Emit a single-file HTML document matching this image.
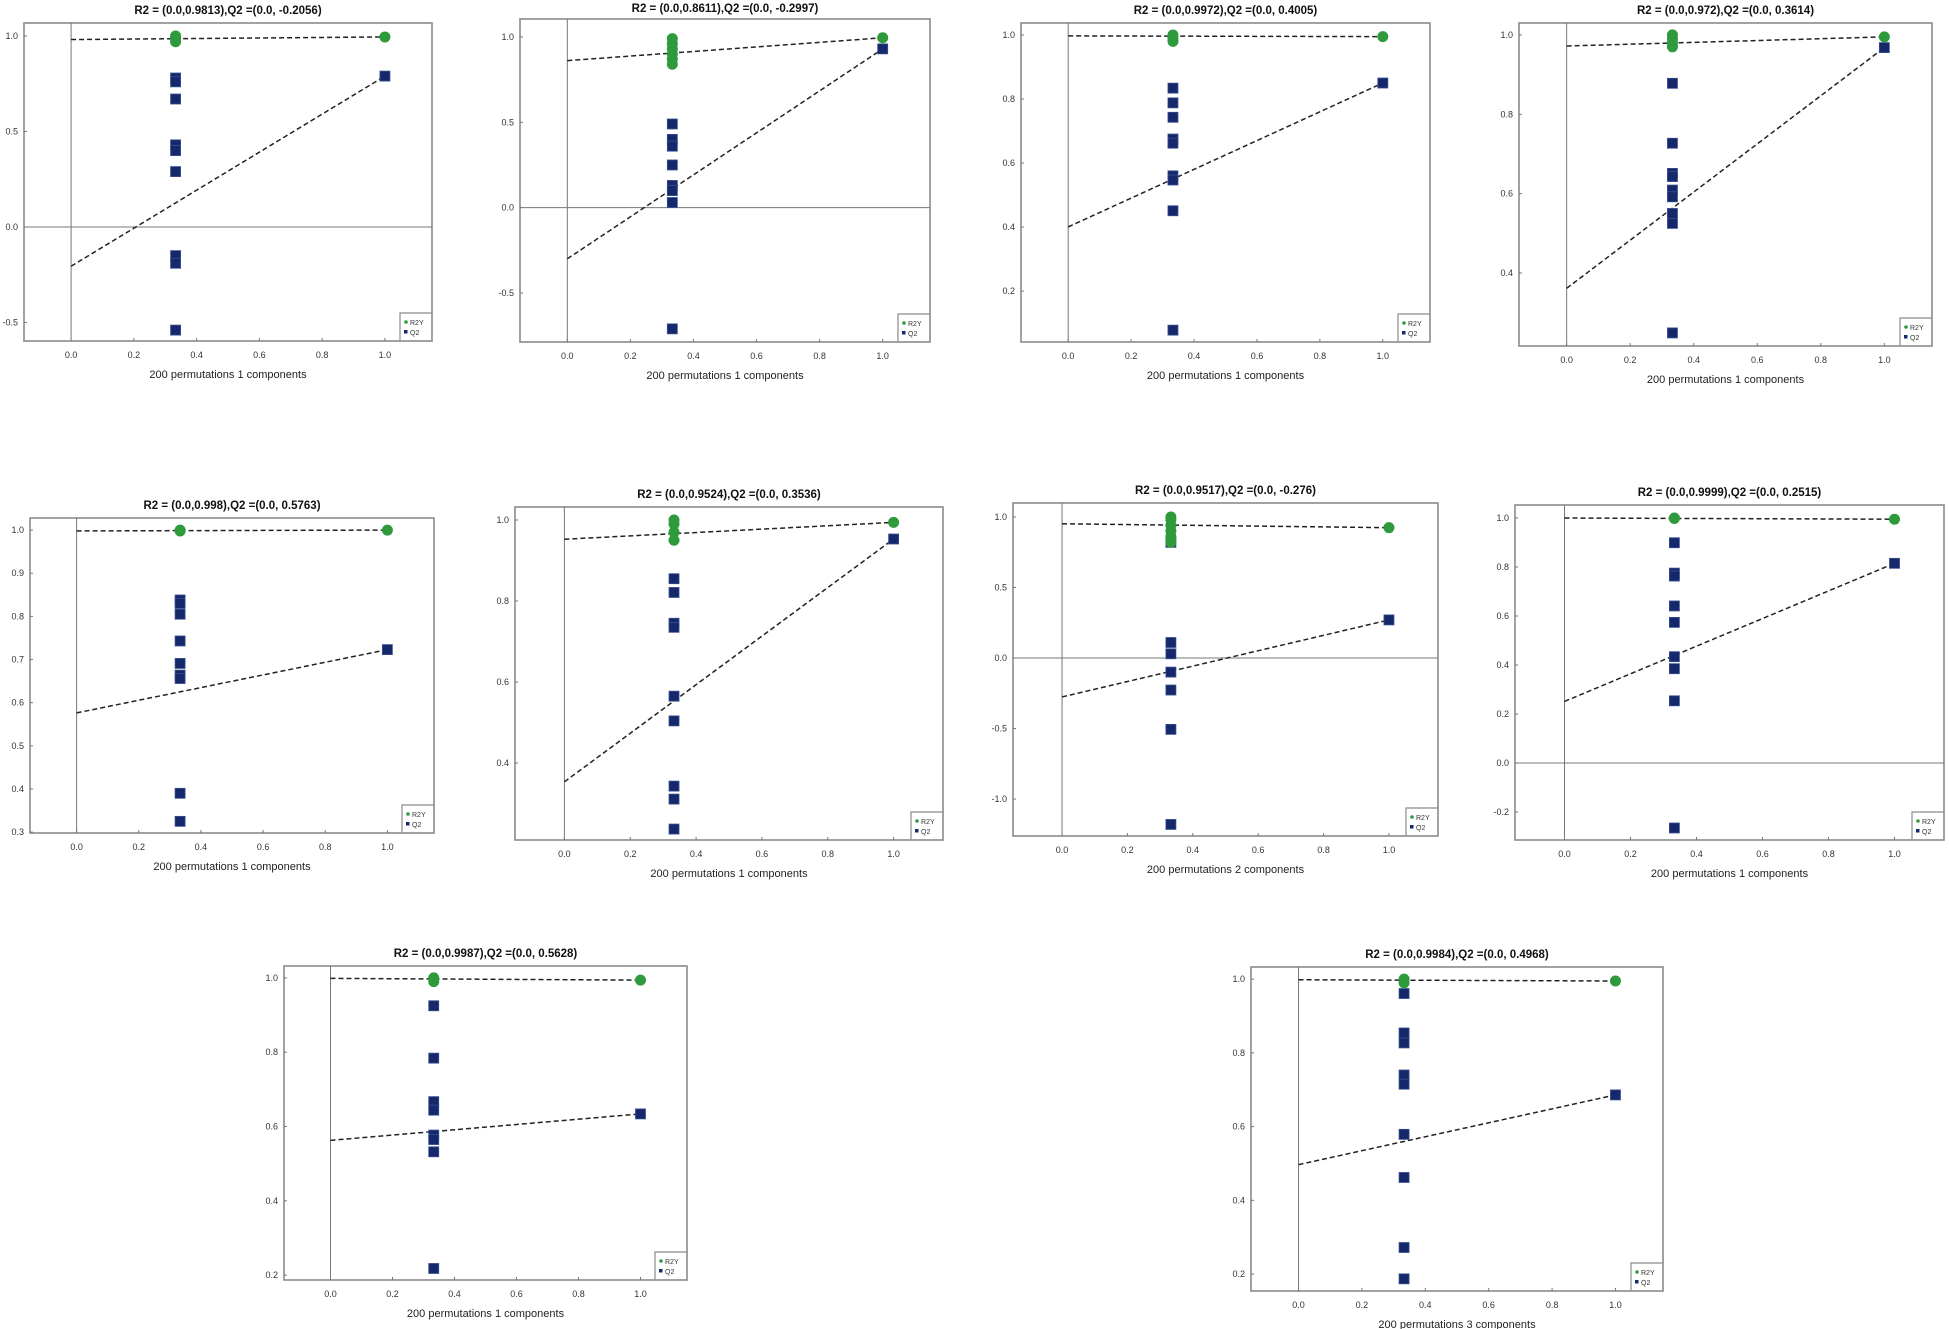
<!DOCTYPE html>
<html><head><meta charset="utf-8"><style>
html,body{margin:0;padding:0;background:#fff;}
svg{display:block;}
text{font-family:"Liberation Sans",sans-serif;}
</style></head><body>
<svg id="fig" width="1949" height="1329" viewBox="0 0 1949 1329" xmlns="http://www.w3.org/2000/svg"></svg>
<script>
// ---- data per panel ----
const titles = [
 "R2 = (0.0,0.9813),Q2 =(0.0, -0.2056)",
 "R2 = (0.0,0.8611),Q2 =(0.0, -0.2997)",
 "R2 = (0.0,0.9972),Q2 =(0.0, 0.4005)",
 "R2 = (0.0,0.972),Q2 =(0.0, 0.3614)",
 "R2 = (0.0,0.998),Q2 =(0.0, 0.5763)",
 "R2 = (0.0,0.9524),Q2 =(0.0, 0.3536)",
 "R2 = (0.0,0.9517),Q2 =(0.0, -0.276)",
 "R2 = (0.0,0.9999),Q2 =(0.0, 0.2515)",
 "R2 = (0.0,0.9987),Q2 =(0.0, 0.5628)",
 "R2 = (0.0,0.9984),Q2 =(0.0, 0.4968)"
];
const xLabels = ["200 permutations 1 components","200 permutations 1 components","200 permutations 1 components","200 permutations 1 components","200 permutations 1 components","200 permutations 1 components","200 permutations 2 components","200 permutations 1 components","200 permutations 1 components","200 permutations 3 components"];
const r2Intercepts = [0.9813,0.8611,0.9972,0.972,0.998,0.9524,0.9517,0.9999,0.9987,0.9984];
const q2Intercepts = [-0.2056,-0.2997,0.4005,0.3614,0.5763,0.3536,-0.276,0.2515,0.5628,0.4968];
const r2Original = [0.995,0.995,0.995,0.995,1.0,0.994,0.924,0.995,0.994,0.995];
const q2Original = [0.79,0.93,0.85,0.968,0.723,0.953,0.27,0.815,0.634,0.686];
const permX = 0.333;
const r2Permuted = [
 [0.97,0.98,0.99,1.0],
 [0.84,0.87,0.9,0.93,0.96,0.99],
 [0.98,0.99,1.0],
 [0.97,0.98,0.99,1.0],
 [0.998,1.0],
 [0.95,0.97,0.99,1.0],
 [0.82,0.86,0.9,0.94,0.98,1.0],
 [0.998,1.0],
 [0.99,1.0],
 [0.99,1.0]
];
const q2Permuted = [
 [0.78,0.76,0.67,0.43,0.40,0.29,-0.15,-0.19,-0.54],
 [0.49,0.40,0.36,0.25,0.13,0.10,0.03,-0.71],
 [0.834,0.788,0.743,0.675,0.662,0.56,0.547,0.451,0.078],
 [0.878,0.727,0.651,0.643,0.609,0.592,0.55,0.525,0.249],
 [0.838,0.830,0.805,0.743,0.691,0.664,0.656,0.390,0.325],
 [0.855,0.821,0.745,0.735,0.565,0.504,0.343,0.311,0.237],
 [0.82,0.11,0.03,-0.10,-0.227,-0.506,-1.18],
 [0.899,0.775,0.763,0.641,0.574,0.434,0.385,0.254,-0.265],
 [0.925,0.784,0.667,0.644,0.577,0.565,0.532,0.218],
 [0.961,0.854,0.827,0.74,0.715,0.579,0.462,0.272,0.187]
];
const yTicks = [
 [-0.5,0,0.5,1.0],[-0.5,0,0.5,1.0],[0.2,0.4,0.6,0.8,1.0],[0.4,0.6,0.8,1.0],
 [0.3,0.4,0.5,0.6,0.7,0.8,0.9,1.0],[0.4,0.6,0.8,1.0],[-1.0,-0.5,0,0.5,1.0],
 [-0.2,0,0.2,0.4,0.6,0.8,1.0],[0.2,0.4,0.6,0.8,1.0],[0.2,0.4,0.6,0.8,1.0]
];
const yDomains = [[-0.597,1.068],[-0.787,1.105],[0.041,1.0375],[0.216,1.030],[0.298,1.028],[0.210,1.032],[-1.262,1.099],[-0.314,1.053],[0.187,1.032],[0.154,1.033]];
const xTicks = [0,0.2,0.4,0.6,0.8,1.0];
const xDomain = [-0.15,1.15];
// layout: plot boxes [left, top, right, bottom]
const boxes = [[24,23,432,341],[520,19,930,342],[1021,23,1430,342],[1519,23,1932,346],
 [30,518,434,833],[515,507,943,840],[1013,503,1438,836],[1515,505,1944,840],
 [284,966,687,1280],[1251,967,1663,1291]];

const NS="http://www.w3.org/2000/svg";
const svg=document.getElementById('fig');
function mk(tag,attrs,parent){const e=document.createElementNS(NS,tag);for(const k in attrs)e.setAttribute(k,attrs[k]);(parent||svg).appendChild(e);return e;}
function fmt(v){return (Math.round(v*10)/10).toFixed(1);}

for(let p=0;p<10;p++){
 const [L,T,R,B]=boxes[p];
 const yd=yDomains[p];
 const sx=v=>L+(v-xDomain[0])/(xDomain[1]-xDomain[0])*(R-L);
 const sy=v=>B-(v-yd[0])/(yd[1]-yd[0])*(B-T);
 const g=mk('g',{});
 
 
 const t=mk('text',{x:(L+R)/2,y:Math.max(T-9,12),'text-anchor':'middle','font-size':'11.5','font-weight':'bold',fill:'#111'},g);
 t.textContent=titles[p];
 
 
 const fr=mk('rect',{x:L,y:T,width:R-L,height:B-T,fill:'none',stroke:'#8a8a8a','stroke-width':'1.6'},g);
 
 
 const vl=mk('line',{x1:sx(0),x2:sx(0),y1:T,y2:B,stroke:'#777','stroke-width':'1'},g);
 
 
 if(yd[0]<0){
  const hl=mk('line',{x1:L,x2:R,y1:sy(0),y2:sy(0),stroke:'#777','stroke-width':'1'},g);
  
  
 }
 xTicks.forEach(v=>{
  mk('line',{x1:sx(v),x2:sx(v),y1:B,y2:B-3,stroke:'#777','stroke-width':'1'},g);
  const tx=mk('text',{x:sx(v),y:B+17,'text-anchor':'middle','font-size':'9',fill:'#333'},g);
  tx.textContent=fmt(v);
  
  
 });
 yTicks[p].forEach(v=>{
  mk('line',{x1:L,x2:L+3,y1:sy(v),y2:sy(v),stroke:'#777','stroke-width':'1'},g);
  const ty=mk('text',{x:L-6,y:sy(v)+3,'text-anchor':'end','font-size':'9',fill:'#333'},g);
  ty.textContent=fmt(v);
  
  
 });
 const xl=mk('text',{x:(L+R)/2,y:B+37,'text-anchor':'middle','font-size':'11',fill:'#222'},g);
 xl.textContent=xLabels[p];
 
 
 const l1=mk('line',{x1:sx(0),y1:sy(r2Intercepts[p]),x2:sx(1),y2:sy(r2Original[p]),stroke:'#222','stroke-width':'1.5','stroke-dasharray':'5,3'},g);
 
 
 const l2=mk('line',{x1:sx(0),y1:sy(q2Intercepts[p]),x2:sx(1),y2:sy(q2Original[p]),stroke:'#222','stroke-width':'1.5','stroke-dasharray':'5,3'},g);
 
 
 const sq=(x,y)=>{const r=mk('rect',{x:x-5,y:y-5,width:10,height:10,fill:'#14286b',stroke:'#3a4f8f','stroke-width':'0.8'},g);
  
  };
 const ci=(x,y)=>{const c=mk('circle',{cx:x,cy:y,r:5.5,fill:'#2f9a3c'},g);
  
  };
 q2Permuted[p].forEach(v=>sq(sx(permX),sy(v)));
 sq(sx(1),sy(q2Original[p]));
 r2Permuted[p].forEach(v=>ci(sx(permX),sy(v)));
 ci(sx(1),sy(r2Original[p]));
 const lg=mk('g',{},g);
 
 
 mk('path',{d:`M${R-32},${B} V${B-28} H${R}`,fill:'#fff',stroke:'#8a8a8a','stroke-width':'1.2'},lg);
 mk('circle',{cx:R-26,cy:B-19,r:1.8,fill:'#2f9a3c'},lg);
 const e1=mk('text',{x:R-22,y:B-16,'font-size':'7',fill:'#333'},lg);
 e1.textContent='R2Y';
 
 
 mk('rect',{x:R-28,y:B-11,width:3.5,height:3.5,fill:'#14286b'},lg);
 const e2=mk('text',{x:R-22,y:B-6,'font-size':'7',fill:'#333'},lg);
 e2.textContent='Q2';
 
 
}
</script>
</body></html>
